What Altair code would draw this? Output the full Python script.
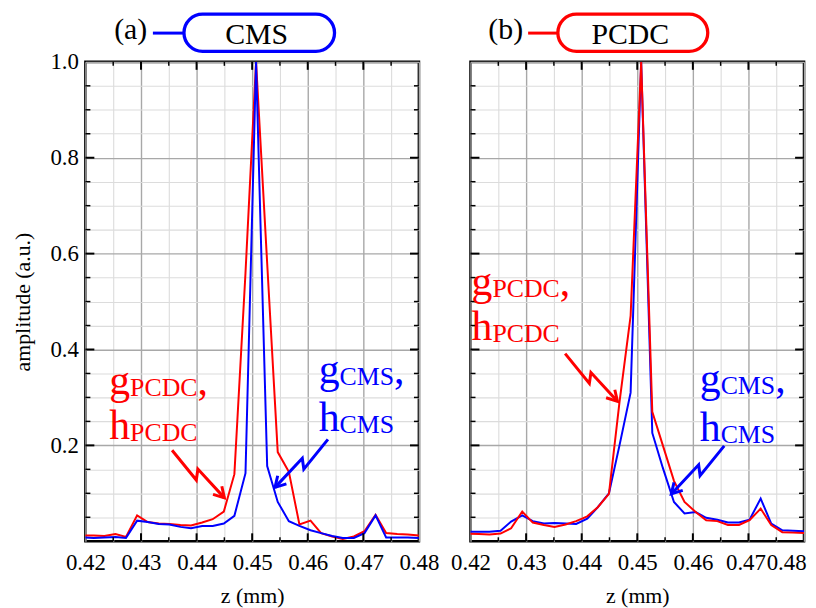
import altair as alt
import pandas as pd

SERIF = "Liberation Serif"
BLUE = "#0000ff"
RED = "#ff0000"
GRID_MAJOR = "#a8a8a8"
GRID_MINOR = "#dcdcdc"

# sample positions (mm)
z = [0.4195, 0.4215, 0.4234, 0.4254, 0.4273, 0.4293, 0.4312, 0.4332,
     0.4351, 0.4371, 0.4390, 0.4410, 0.4429, 0.4449, 0.4468, 0.4488,
     0.4507, 0.4527, 0.4546, 0.4566, 0.4585, 0.4605, 0.4624, 0.4644,
     0.4663, 0.4683, 0.4702, 0.4722, 0.4741, 0.4761, 0.4780, 0.4800]

# panel (a): CMS
a_pcdc = [0.012, 0.012, 0.011, 0.015, 0.009, 0.054, 0.040, 0.037,
          0.036, 0.034, 0.033, 0.039, 0.046, 0.062, 0.140, 0.560,
          1.000, 0.580, 0.186, 0.145, 0.035, 0.043, 0.017, 0.010,
          0.005, 0.010, 0.021, 0.055, 0.017, 0.015, 0.014, 0.012]
a_cms = [0.008, 0.007, 0.008, 0.009, 0.007, 0.043, 0.040, 0.036,
         0.035, 0.030, 0.027, 0.032, 0.032, 0.037, 0.053, 0.142,
         1.000, 0.157, 0.082, 0.042, 0.032, 0.023, 0.017, 0.011,
         0.007, 0.007, 0.017, 0.054, 0.008, 0.008, 0.008, 0.007]

# panel (b): PCDC
b_cms = [0.020, 0.020, 0.020, 0.022, 0.041, 0.054, 0.042, 0.037,
         0.038, 0.037, 0.036, 0.047, 0.071, 0.100, 0.200, 0.310,
         1.000, 0.226, 0.153, 0.082, 0.058, 0.061, 0.049, 0.045,
         0.039, 0.039, 0.045, 0.089, 0.037, 0.023, 0.022, 0.021]
b_pcdc = [0.016, 0.015, 0.014, 0.016, 0.027, 0.062, 0.039, 0.034,
          0.030, 0.035, 0.042, 0.052, 0.071, 0.099, 0.290, 0.470,
          1.000, 0.270, 0.200, 0.126, 0.082, 0.061, 0.044, 0.042,
          0.034, 0.034, 0.044, 0.068, 0.034, 0.019, 0.018, 0.017]

x_ticks = [0.42, 0.425, 0.43, 0.435, 0.44, 0.445, 0.45, 0.455, 0.46,
           0.465, 0.47, 0.475, 0.48]
y_ticks = [0.05, 0.1, 0.15, 0.2, 0.25, 0.3, 0.35, 0.4, 0.45, 0.5, 0.55,
           0.6, 0.65, 0.7, 0.75, 0.8, 0.85, 0.9, 0.95, 1.0]
x_major_in = [0.43, 0.44, 0.45, 0.46, 0.47]
x_minor_in = [0.425, 0.435, 0.445, 0.455, 0.465, 0.475]
y_major_in = [0.2, 0.4, 0.6, 0.8]
y_minor_in = [0.05, 0.1, 0.15, 0.25, 0.3, 0.35, 0.45, 0.5, 0.55, 0.65,
              0.7, 0.75, 0.85, 0.9, 0.95]

W, H = 336, 483
LABEL_SIZE, TITLE_SIZE = 23, 22
XMAJ = "abs(datum.value * 100 - round(datum.value * 100)) < 0.001"
YMAJ = "abs(datum.value * 5 - round(datum.value * 5)) < 0.001"
XS = alt.Scale(domain=[0.42, 0.48], nice=False, zero=False)
YS = alt.Scale(domain=[0.0, 1.0], nice=False, zero=False)


def x_axis(last_right):
    kw = dict(values=x_ticks, format=".2f",
              labelExpr=f"{XMAJ} ? datum.label : ''",
              ticks=False, domain=False, grid=True,
              gridColor={"condition": {"test": XMAJ, "value": GRID_MAJOR}, "value": GRID_MINOR},
              gridWidth={"condition": {"test": XMAJ, "value": 1.4}, "value": 1.1},
              labelFont=SERIF, labelFontSize=LABEL_SIZE, labelColor="black",
              labelPadding=10, labelFlush=False, labelOverlap=False,
              title="z (mm)", titleFont=SERIF, titleFontSize=TITLE_SIZE,
              titleFontWeight="normal", titleColor="black", titlePadding=12)
    if last_right:
        kw["labelOffset"] = {"condition": [
            {"test": "datum.value > 0.479", "value": -18},
            {"test": "abs(datum.value - 0.47) < 0.0001", "value": -3}],
            "value": 0}
    return alt.Axis(**kw)


def y_axis(with_labels):
    kw = dict(values=y_ticks, format=".1f",
              labelExpr=f"{YMAJ} ? datum.label : ''",
              ticks=False, domain=False, grid=True,
              gridColor={"condition": {"test": YMAJ, "value": GRID_MAJOR}, "value": GRID_MINOR},
              gridWidth={"condition": {"test": YMAJ, "value": 1.4}, "value": 1.1},
              labelFont=SERIF, labelFontSize=LABEL_SIZE, labelColor="black",
              labelPadding=7, labelFlush=False, labelOverlap=False,
              titleFont=SERIF, titleFontSize=TITLE_SIZE, titleFontWeight="normal",
              titleColor="black", titlePadding=16)
    if with_labels:
        kw["title"] = "amplitude (a.u.)"
    else:
        kw["labels"] = False
        kw["title"] = None
    return alt.Axis(**kw)


def build_panel(series, texts, arrows, title, with_ylabels, last_right):
    xa = x_axis(last_right)
    ya = y_axis(with_ylabels)

    def X(f):
        return alt.X(f, type="quantitative", scale=XS, axis=xa)

    def Y(f):
        return alt.Y(f, type="quantitative", scale=YS, axis=ya)

    layers = []
    for amps, color in series:
        df = pd.DataFrame({"z": z, "amp": amps})
        layers.append(alt.Chart(df).mark_line(color=color, strokeWidth=2, clip=True)
                      .encode(x=X("z"), y=Y("amp")))

    # inward ticks on the frame
    for vals, ln, sw in [(x_major_in, 8, 2), (x_minor_in, 4, 1.5)]:
        d = pd.DataFrame({"x": vals})
        layers.append(alt.Chart(d).mark_rule(color="black", strokeWidth=sw)
                      .encode(x=X("x"), y=alt.value(0), y2=alt.value(ln)))
        layers.append(alt.Chart(d).mark_rule(color="black", strokeWidth=sw)
                      .encode(x=X("x"), y=alt.value(H), y2=alt.value(H - ln)))
    for vals, ln, sw in [(y_major_in, 9, 2), (y_minor_in, 5, 1.5)]:
        d = pd.DataFrame({"y": vals})
        layers.append(alt.Chart(d).mark_rule(color="black", strokeWidth=sw)
                      .encode(y=Y("y"), x=alt.value(0), x2=alt.value(ln)))
        layers.append(alt.Chart(d).mark_rule(color="black", strokeWidth=sw)
                      .encode(y=Y("y"), x=alt.value(W), x2=alt.value(W - ln)))

    # curve labels with subscripts
    for (x, y, s, size, color, dx, dy) in texts:
        d = pd.DataFrame({"x": [x], "y": [y], "t": [s]})
        layers.append(alt.Chart(d).mark_text(font=SERIF, fontSize=size, color=color,
                                             align="left", baseline="alphabetic",
                                             dx=dx, dy=dy)
                      .encode(x=X("x"), y=Y("y"), text="t:N"))

    # lightning arrows
    for pts, color in arrows:
        S, A, B, T, L1, L2 = pts
        rows = [(S, "shaft", 0), (A, "shaft", 1), (B, "shaft", 2), (T, "shaft", 3),
                (L1, "head", 0), (T, "head", 1), (L2, "head", 2)]
        d = pd.DataFrame({"x": [r[0][0] for r in rows], "y": [r[0][1] for r in rows],
                          "seg": [r[1] for r in rows], "ord": [r[2] for r in rows]})
        layers.append(alt.Chart(d).mark_line(color=color, strokeWidth=3, strokeJoin="miter")
                      .encode(x=X("x"), y=Y("y"), detail="seg:N", order="ord:Q"))

    # panel heading: (a)-[ CMS ]
    t = title
    d = pd.DataFrame({"x0": [t["conn"][0]], "x1": [t["conn"][1]], "y0": [t["conn"][2]]})
    layers.append(alt.Chart(d).mark_rule(color=t["color"], strokeWidth=3)
                  .encode(x=X("x0"), x2=alt.X2("x1"), y=Y("y0")))
    d = pd.DataFrame({"x0": [t["box"][0]], "x1": [t["box"][1]],
                      "y0": [t["box"][2]], "y1": [t["box"][3]]})
    layers.append(alt.Chart(d).mark_rect(fill="white", stroke=t["color"], strokeWidth=3.3,
                                         cornerRadius=19)
                  .encode(x=X("x0"), x2=alt.X2("x1"), y=Y("y0"), y2=alt.Y2("y1")))
    d = pd.DataFrame({"x": [t["letter"][0]], "y": [t["letter"][1]], "t": [t["letter"][2]]})
    layers.append(alt.Chart(d).mark_text(font=SERIF, fontSize=30, color="black",
                                         align="left", baseline="alphabetic")
                  .encode(x=X("x"), y=Y("y"), text="t:N"))
    d = pd.DataFrame({"x": [t["word"][0]], "y": [t["word"][1]], "t": [t["word"][2]]})
    layers.append(alt.Chart(d).mark_text(font=SERIF, fontSize=30, color="black",
                                         align="center", baseline="alphabetic")
                  .encode(x=X("x"), y=Y("y"), text="t:N"))

    return alt.layer(*layers).properties(width=W, height=H)


BIG, SUB = 42, 26
texts_a = [
    (0.42429, 0.3064, "g", BIG, RED, 0, 0), (0.42429, 0.3064, "PCDC", SUB, RED, 21, 2),
    (0.42429, 0.3064, ",", BIG, RED, 89, 0),
    (0.42429, 0.2133, "h", BIG, RED, 0, 0), (0.42429, 0.2133, "PCDC", SUB, RED, 21, 2),
    (0.46196, 0.3292, "g", BIG, BLUE, 0, 0), (0.46196, 0.3292, "CMS", SUB, BLUE, 21, 2),
    (0.46196, 0.3292, ",", BIG, BLUE, 76, 0),
    (0.46196, 0.2298, "h", BIG, BLUE, 0, 0), (0.46196, 0.2298, "CMS", SUB, BLUE, 21, 2),
]
arrows_a = [
    ([(0.43559, 0.1899), (0.43995, 0.1277), (0.44023, 0.1505), (0.44500, 0.0905),
      (0.44296, 0.0979), (0.44454, 0.1147)], RED),
    ([(0.46363, 0.2126), (0.45929, 0.1505), (0.45902, 0.1733), (0.45411, 0.1124),
      (0.45616, 0.1197), (0.45459, 0.1366)], BLUE),
]
title_a = {"color": BLUE, "letter": (0.42518, 1.0476, "(a)"),
           "conn": (0.43214, 0.43773, 1.0600),
           "box": (0.43773, 0.46482, 1.0996, 1.0219),
           "word": (0.45080, 1.0373, "CMS")}

texts_b = [
    (0.42018, 0.5135, "g", BIG, RED, 0, 0), (0.42018, 0.5135, "PCDC", SUB, RED, 21, 2),
    (0.42018, 0.5135, ",", BIG, RED, 89, 0),
    (0.42018, 0.4203, "h", BIG, RED, 0, 0), (0.42018, 0.4203, "PCDC", SUB, RED, 21, 2),
    (0.46125, 0.3106, "g", BIG, BLUE, 0, 0), (0.46125, 0.3106, "CMS", SUB, BLUE, 21, 2),
    (0.46125, 0.3106, ",", BIG, BLUE, 76, 0),
    (0.46125, 0.2091, "h", BIG, BLUE, 0, 0), (0.46125, 0.2091, "CMS", SUB, BLUE, 21, 2),
]
arrows_b = [
    ([(0.43702, 0.3913), (0.44138, 0.3292), (0.44166, 0.3520), (0.44643, 0.2919),
      (0.44439, 0.2994), (0.44596, 0.3161)], RED),
    ([(0.46564, 0.1990), (0.46130, 0.1369), (0.46104, 0.1596), (0.45613, 0.0988),
      (0.45818, 0.1060), (0.45661, 0.1230)], BLUE),
]
title_b = {"color": RED, "letter": (0.42321, 1.0476, "(b)"),
           "conn": (0.43036, 0.43571, 1.0600),
           "box": (0.43571, 0.46268, 1.0996, 1.0219),
           "word": (0.44875, 1.0373, "PCDC")}

panel_a = build_panel([(a_pcdc, RED), (a_cms, BLUE)], texts_a, arrows_a, title_a, True, False)
panel_b = build_panel([(b_cms, BLUE), (b_pcdc, RED)], texts_b, arrows_b, title_b, False, True)

chart = (alt.hconcat(panel_a, panel_b, spacing=52, bounds="flush")
         .properties(padding={"left": 1, "top": 0, "right": 0, "bottom": 0})
         .configure_view(stroke="black", strokeWidth=2.6)
         .configure_axis(labelFont=SERIF, titleFont=SERIF, labelFontSize=LABEL_SIZE,
                         titleFontSize=TITLE_SIZE, labelColor="black", titleColor="black",
                         titleFontWeight="normal")
         .configure_text(font=SERIF))

chart.save("out.html", embed_options={"renderer": "svg", "actions": False})
